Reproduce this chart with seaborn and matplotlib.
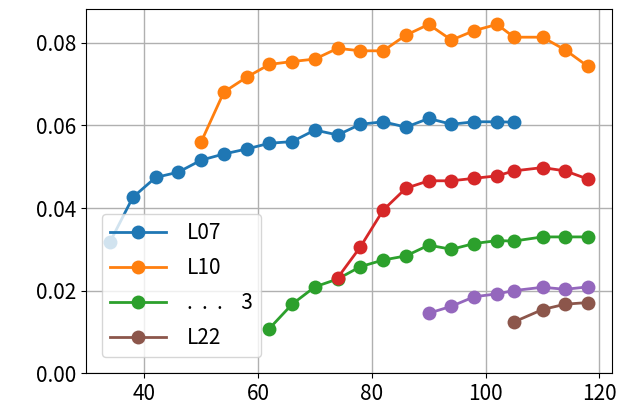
import matplotlib
matplotlib.use("Agg")
import matplotlib.pyplot as plt
import seaborn as sns
import pandas as pd

# values
x_l07 = [34, 38, 42, 46, 50, 54, 58, 62, 66, 70, 74, 78, 82, 86, 90, 94, 98, 102, 105]
y_l07 = [0.0318, 0.0426, 0.0474, 0.0487, 0.0516, 0.0531, 0.0543, 0.0557, 0.0561, 0.0589,
         0.0577, 0.0603, 0.0609, 0.0596, 0.0617, 0.0603, 0.0609, 0.0609, 0.0608]

x_l10 = [50, 54, 58, 62, 66, 70, 74, 78, 82, 86, 90, 94, 98, 102, 105, 110, 114, 118]
y_l10 = [0.0560, 0.0681, 0.0717, 0.0748, 0.0755, 0.0761, 0.0787, 0.0781, 0.0781, 0.0819,
         0.0845, 0.0807, 0.0830, 0.0845, 0.0814, 0.0814, 0.0783, 0.0743]

x_green = [62, 66, 70, 74, 78, 82, 86, 90, 94, 98, 102, 105, 110, 114, 118]
y_green = [0.0108, 0.0167, 0.0209, 0.0228, 0.0258, 0.0274, 0.0284, 0.0310, 0.0300, 0.0314,
           0.0321, 0.0320, 0.0330, 0.0330, 0.0330]

x_red = [74, 78, 82, 86, 90, 94, 98, 102, 105, 110, 114, 118]
y_red = [0.0231, 0.0306, 0.0395, 0.0448, 0.0466, 0.0466, 0.0472, 0.0478, 0.0490, 0.0498,
         0.0490, 0.0470]

x_purple = [90, 94, 98, 102, 105, 110, 114, 118]
y_purple = [0.0145, 0.0162, 0.0185, 0.0192, 0.0200, 0.0208, 0.0203, 0.0209]

x_l22 = [105, 110, 114, 118]
y_l22 = [0.0124, 0.0154, 0.0167, 0.0171]

# red and purple are not in the legend of the reference
labels = ["L07", "L10", ".  .  .    3", "_L16", "_L19", "L22"]
colors = ["#1f77b4", "#ff7f0e", "#2ca02c", "#d62728", "#9467bd", "#8c564b"]

plt.rcParams['font.family'] = ['Noto Sans CJK JP', 'DejaVu Sans']
plt.rcParams['font.size'] = 15

fig = plt.figure(figsize=(6.2, 4.15), dpi=100)
ax = fig.add_axes([0.139, 0.101, 0.848, 0.877])

series = [(x_l07, y_l07), (x_l10, y_l10), (x_green, y_green),
          (x_red, y_red), (x_purple, y_purple), (x_l22, y_l22)]
for (xs, ys), lab, col in zip(series, labels, colors):
    df = pd.DataFrame({"x": xs, "y": ys})
    sns.lineplot(data=df, x="x", y="y", ax=ax, color=col, label=lab,
                 marker="o", markersize=10, markeredgewidth=0, linewidth=2)

ax.set_ylim(0, 0.0882)
ax.set_yticks([0.0, 0.02, 0.04, 0.06, 0.08])
ax.set_yticklabels(["0.00", "0.02", "0.04", "0.06", "0.08"])
ax.set_xticks([40, 60, 80, 100, 120])
ax.tick_params(labelsize=15)
ax.set_xlabel("")
ax.set_ylabel("")
ax.grid(True, color="#b0b0b0", linewidth=1)
ax.set_axisbelow(True)
ax.legend(loc="lower left", fontsize=15, handlelength=2.7, labelspacing=0.62,
          handletextpad=1.0, borderaxespad=0.75)

fig.savefig("out.png", dpi=100)
